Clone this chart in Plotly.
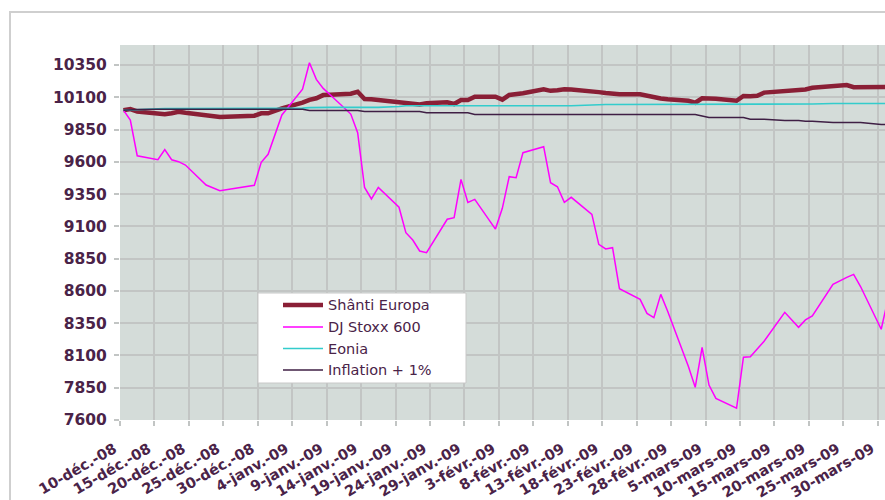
import plotly.graph_objects as go
import pandas as pd

dates = [
    "2008-12-10", "2008-12-11", "2008-12-12", "2008-12-15", "2008-12-16", "2008-12-17", "2008-12-18",
    "2008-12-19", "2008-12-22", "2008-12-23", "2008-12-24", "2008-12-29", "2008-12-30", "2008-12-31",
    "2009-01-02", "2009-01-05", "2009-01-06", "2009-01-07", "2009-01-08", "2009-01-09", "2009-01-12",
    "2009-01-13", "2009-01-14", "2009-01-15", "2009-01-16", "2009-01-19", "2009-01-20", "2009-01-21",
    "2009-01-22", "2009-01-23", "2009-01-26", "2009-01-27", "2009-01-28", "2009-01-29", "2009-01-30",
    "2009-02-02", "2009-02-03", "2009-02-04", "2009-02-05", "2009-02-06", "2009-02-09", "2009-02-10",
    "2009-02-11", "2009-02-12", "2009-02-13", "2009-02-16", "2009-02-17", "2009-02-18", "2009-02-19",
    "2009-02-20", "2009-02-23", "2009-02-24", "2009-02-25", "2009-02-26", "2009-02-27",
    "2009-03-02", "2009-03-03", "2009-03-04", "2009-03-05", "2009-03-06", "2009-03-09", "2009-03-10",
    "2009-03-11", "2009-03-12", "2009-03-13", "2009-03-16", "2009-03-17", "2009-03-18", "2009-03-19",
    "2009-03-20", "2009-03-23", "2009-03-24", "2009-03-25", "2009-03-26", "2009-03-27", "2009-03-30",
    "2009-03-31",
]

shanti = [
    10000, 10009, 9990, 9968, 9968, 9976, 9988, 9980, 9957, 9952, 9947, 9957, 9976, 9976,
    10014, 10058, 10080, 10092, 10117, 10120, 10128, 10143, 10087, 10085, 10079, 10065, 10053, 10050,
    10045, 10053, 10061, 10048, 10079, 10079, 10104,
    10104, 10082, 10118, 10125, 10131, 10162, 10150, 10155, 10162, 10160, 10150, 10140, 10133, 10125,
    10123, 10123, 10110, 10104, 10090, 10084,
    10073, 10058, 10092, 10090, 10088, 10073, 10110, 10108, 10112, 10136, 10150, 10156, 10156, 10160,
    10174, 10185, 10189, 10195, 10178, 10178, 10178, 10180,
]

stoxx = [
    10000, 9924, 9647, 9616, 9694, 9616, 9601, 9575, 9420, 9395, 9376, 9418, 9596, 9658,
    9963, 10162, 10368, 10239, 10169, 10120, 9970, 9826, 9402, 9312, 9402, 9248, 9051, 8994,
    8909, 8896, 9155, 9167, 9464, 9286, 9309,
    9079, 9240, 9485, 9477, 9671, 9717, 9438, 9407, 9286, 9325, 9193, 8961, 8925, 8935,
    8617, 8535, 8426, 8393, 8573, 8442,
    8016, 7853, 8163, 7871, 7768, 7691, 8086, 8090, 8150, 8210, 8434, 8375, 8318, 8375,
    8406, 8651, 8679, 8705, 8728, 8634, 8303, 8540,
]

eonia = [
    10000, 10003, 10006, 10010, 10012, 10012, 10012, 10012, 10012, 10012, 10012, 10012, 10012, 10012,
    10012, 10016, 10020, 10022, 10022, 10022, 10022, 10022, 10022, 10022, 10022, 10028, 10034, 10034,
    10034, 10034, 10034, 10034, 10034, 10034, 10034,
    10034, 10034, 10034, 10034, 10034, 10034, 10034, 10034, 10034, 10034, 10040, 10044, 10044, 10044,
    10044, 10044, 10044, 10044, 10044, 10044,
    10044, 10044, 10044, 10044, 10044, 10044, 10044, 10044, 10044, 10044, 10044, 10044, 10044, 10044,
    10048, 10052, 10052, 10052, 10052, 10052, 10052, 10052,
]

inflation = [
    10000, 10003, 10006, 10008, 10008, 10008, 10008, 10008, 10008, 10008, 10008, 10008, 10008, 10008,
    10008, 10008, 9998, 9998, 9998, 9998, 9998, 9998, 9990, 9990, 9990, 9990, 9990, 9990,
    9990, 9980, 9980, 9980, 9980, 9980, 9966,
    9966, 9966, 9966, 9966, 9966, 9966, 9966, 9966, 9966, 9966, 9966, 9966, 9966, 9966,
    9966, 9966, 9966, 9966, 9966, 9966,
    9966, 9966, 9955, 9943, 9943, 9943, 9943, 9930, 9930, 9930, 9920, 9920, 9920, 9914,
    9914, 9904, 9904, 9904, 9904, 9904, 9890, 9888,
]

series_names = ["Shânti Europa", "DJ Stoxx 600", "Eonia", "Inflation + 1%"]

tick_dates = [
    "2008-12-10", "2008-12-15", "2008-12-20", "2008-12-25", "2008-12-30", "2009-01-04", "2009-01-09",
    "2009-01-14", "2009-01-19", "2009-01-24", "2009-01-29", "2009-02-03", "2009-02-08", "2009-02-13",
    "2009-02-18", "2009-02-23", "2009-02-28", "2009-03-05", "2009-03-10", "2009-03-15", "2009-03-20",
    "2009-03-25", "2009-03-30",
]
tick_labels = [
    "10-déc.-08", "15-déc.-08", "20-déc.-08", "25-déc.-08", "30-déc.-08", "4-janv.-09", "9-janv.-09",
    "14-janv.-09", "19-janv.-09", "24-janv.-09", "29-janv.-09", "3-févr.-09", "8-févr.-09", "13-févr.-09",
    "18-févr.-09", "23-févr.-09", "28-févr.-09", "5-mars-09", "10-mars-09", "15-mars-09", "20-mars-09",
    "25-mars-09", "30-mars-09",
]

# ---- styling ----
colors = ["#8A1F36", "#FF00FF", "#33CCCC", "#3F1F45"]
widths = [4.5, 1.5, 1.6, 1.5]
TXT = "#4A2348"
BG = "#D4DCD9"
GRID = "#C2C5C4"
FONT = "DejaVu Sans"

W, H = 885, 500
# plot area in page pixels
PL, PR, PT, PB = 120, 885, 45, 420


def px(x):
    return (x - PL) / (PR - PL)


def py(y):
    return (PB - y) / (PB - PT)


xpos = pd.to_datetime(dates) + pd.Timedelta(hours=12)

fig = go.Figure()
for name, vals, c, w in zip(series_names, [shanti, stoxx, eonia, inflation], colors, widths):
    fig.add_trace(go.Scatter(x=xpos, y=vals, mode="lines", name=name,
                             line=dict(color=c, width=w), showlegend=False))

shapes = []
annotations = []
# outer chart border
shapes.append(dict(type="rect", xref="paper", yref="paper", x0=px(10), x1=px(900), y0=py(520), y1=py(12),
                   line=dict(color="#CFCFCF", width=2), fillcolor="rgba(0,0,0,0)", layer="below"))
# legend box
shapes.append(dict(type="rect", xref="paper", yref="paper", x0=px(258), x1=px(466), y0=py(383), y1=py(293),
                   line=dict(color="#C8C8C8", width=1), fillcolor="white", layer="above"))
ys = [305, 327, 348.5, 370]
for name, c, w, yy in zip(series_names, colors, widths, ys):
    shapes.append(dict(type="line", xref="paper", yref="paper", x0=px(283), x1=px(323), y0=py(yy), y1=py(yy),
                       line=dict(color=c, width=w), layer="above"))
    annotations.append(dict(xref="paper", yref="paper", x=px(326), y=py(yy), text=name, showarrow=False,
                            xanchor="left", yanchor="middle",
                            font=dict(family=FONT, size=14.5, color=TXT)))

fig.update_layout(
    template="none",
    width=W, height=H,
    margin=dict(l=PL, r=W - PR, t=PT, b=H - PB, pad=0),
    paper_bgcolor="white", plot_bgcolor=BG,
    shapes=shapes, annotations=annotations,
    showlegend=False,
)
fig.update_xaxes(
    type="date", automargin=False,
    range=[pd.Timestamp("2008-12-10"), pd.Timestamp("2008-12-10") + pd.Timedelta(days=111.05)],
    tickmode="array", tickvals=tick_dates, ticktext=tick_labels,
    tickangle=-30, ticks="outside", ticklen=5, tickcolor=GRID, tickwidth=1.5,
    showgrid=True, gridcolor=GRID, gridwidth=1.5,
    zeroline=False, showline=False,
    tickfont=dict(family=FONT, size=14.5, color=TXT, weight="bold"),
    ticklabelstandoff=9, ticklabelshift=-6,
)
fig.update_yaxes(
    automargin=False,
    range=[7600, 10505], tick0=7600, dtick=250, tickformat="d",
    ticks="outside", ticklen=5, tickcolor=GRID, tickwidth=1.5,
    showgrid=True, gridcolor=GRID, gridwidth=1.5,
    zeroline=False, showline=False,
    tickfont=dict(family=FONT, size=15.5, color=TXT, weight="bold"),
    ticklabelstandoff=4,
)

fig.write_html(
    "out.html",
    config={"displayModeBar": False},
    post_script="document.body.style.margin='0';document.body.style.overflow='hidden';",
)
